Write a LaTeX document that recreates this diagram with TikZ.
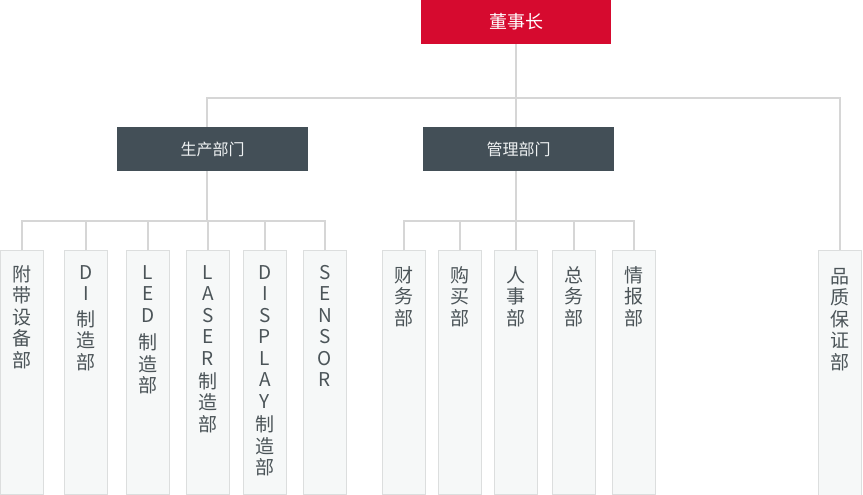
\documentclass[tikz,border=0pt]{standalone}
\usepackage{fontspec}
\setmainfont{Noto Sans CJK SC}
\definecolor{cRed}{HTML}{D60A2F}
\definecolor{cDark}{HTML}{434F57}
\definecolor{cLine}{HTML}{D6D6D6}
\definecolor{cLeafFill}{HTML}{F6F8F8}
\definecolor{cLeafBorder}{HTML}{DCDEDE}
\definecolor{cLeafText}{HTML}{4B5458}
\definecolor{cHeadText}{HTML}{EEF1F2}
\begin{document}
\begin{tikzpicture}[x=1pt,y=-1pt,
  conn/.style={draw=cLine, line width=2pt},
  topbox/.style={fill=cRed, minimum width=190pt, minimum height=44pt, inner sep=0, text=white, font=\fontsize{18}{20}\selectfont},
  headbox/.style={fill=cDark, minimum width=191pt, minimum height=44pt, inner sep=0, text=cHeadText, font=\fontsize{16}{18}\selectfont},
  leafbox/.style={draw=cLeafBorder, fill=cLeafFill, line width=1pt, minimum width=43pt, minimum height=244pt, inner sep=0, anchor=north},
  leaflabel/.style={anchor=north, inner sep=0, align=center, text=cLeafText, font=\fontsize{19}{21.5}\selectfont}
]
\useasboundingbox (0,0) rectangle (863,495);

% top level
\node[topbox] (top) at (516,22) {董事长};
\node[headbox] (prod) at (212.5,149) {生产部门};
\node[headbox] (mgmt) at (518.5,149) {管理部门};

% leaves
\node[leafbox] (l1) at (22,250) {};
\node[leafbox] (l2) at (86,250) {};
\node[leafbox] (l3) at (148,250) {};
\node[leafbox] (l4) at (208,250) {};
\node[leafbox] (l5) at (265,250) {};
\node[leafbox] (l6) at (325,250) {};
\node[leafbox] (m1) at (403.5,250) {};
\node[leafbox] (m2) at (460,250) {};
\node[leafbox] (m3) at (516,250) {};
\node[leafbox] (m4) at (573.5,250) {};
\node[leafbox] (m5) at (634,250) {};
\node[leafbox, minimum height=245pt] (qa) at (840,250) {};

% labels
\node[leaflabel] (t1) at ([yshift=-15pt]l1.north) {附\\带\\设\\备\\部};
\node[leaflabel] (t2) at ([yshift=-15pt]l2.north) {D\\I\\[4pt]制\\造\\部};
\node[leaflabel] (t3) at ([yshift=-15pt]l3.north) {L\\E\\D\\[6pt]制\\造\\部};
\node[leaflabel] (t4) at ([yshift=-15pt]l4.north) {L\\A\\S\\E\\R\\[1.5pt]制\\造\\部};
\node[leaflabel] (t5) at ([yshift=-15pt]l5.north) {D\\I\\S\\P\\L\\A\\Y\\[2pt]制\\造\\部};
\node[leaflabel] (t6) at ([yshift=-15pt]l6.north) {S\\E\\N\\S\\O\\R};
\node[leaflabel] (u1) at ([yshift=-16pt]m1.north) {财\\务\\部};
\node[leaflabel] (u2) at ([yshift=-16pt]m2.north) {购\\买\\部};
\node[leaflabel] (u3) at ([yshift=-16pt]m3.north) {人\\事\\部};
\node[leaflabel] (u4) at ([yshift=-16pt]m4.north) {总\\务\\部};
\node[leaflabel] (u5) at ([yshift=-16pt]m5.north) {情\\报\\部};
\node[leaflabel] (uq) at ([yshift=-18pt]qa.north) {品\\质\\保\\证\\部};

% buses
\coordinate (topbus) at (516,98);
\coordinate (pb) at (207,221);
\coordinate (mb) at (516,221);

\draw[conn] (top.south) -- (mgmt.north -| top.south);
\draw[conn] (prod.north -| pb) |- (topbus) -| (qa.north);
\draw[conn] (prod.south -| pb) -- (pb);
\draw[conn] (mgmt.south -| mb) -- (mb);
\foreach \c in {l1,l2,l3,l4,l5,l6} \draw[conn] (\c.north) |- (pb);
\foreach \c in {m1,m2,m3,m4,m5} \draw[conn] (\c.north) |- (mb);
\end{tikzpicture}
\end{document}
